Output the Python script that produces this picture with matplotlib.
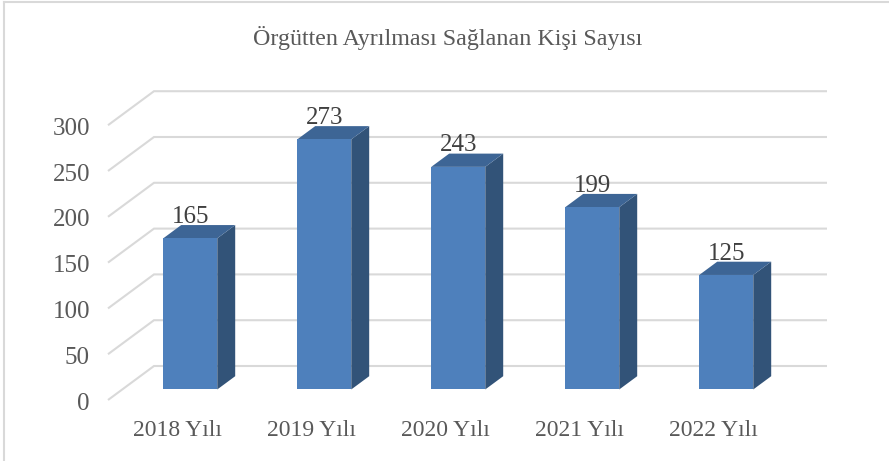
import matplotlib
matplotlib.use("Agg")
import matplotlib.pyplot as plt
from matplotlib.patches import Polygon
from matplotlib.lines import Line2D

W, H = 889, 461

categories = ["2018 Yılı", "2019 Yılı", "2020 Yılı", "2021 Yılı", "2022 Yılı"]
values = [165, 273, 243, 199, 125]
y_ticks = [0, 50, 100, 150, 200, 250, 300]
title = "Örgütten Ayrılması Sağlanan Kişi Sayısı"

plt.rcParams["font.family"] = ["Liberation Serif", "DejaVu Serif"]

# pixel layout of the pseudo 3d box
Y0_PX = 400.0       # value 0 on the front edge of the floor
PX_PER_UNIT = 0.916
X0_PX = 176.0       # first category on the front edge of the floor
STEP_PX = 134.0
WALL_DX, WALL_DY = 46.0, 34.0   # full depth of the box
BAR_D0, BAR_D1 = 0.31, 0.70     # bar depth range inside the box
BAR_W = 54.0 / STEP_PX

fig = plt.figure(figsize=(W / 100, H / 100), dpi=100)
ax = fig.add_axes([0, 0, 1, 1])
# data coordinates: x in category units, y in chart values
ax.set_xlim(-X0_PX / STEP_PX, (W - X0_PX) / STEP_PX)
ax.set_ylim((Y0_PX - H) / PX_PER_UNIT, Y0_PX / PX_PER_UNIT)
ax.axis("off")


def depth(x, y, d):
    # push a front plane point back into the box
    return x + d * WALL_DX / STEP_PX, y + d * WALL_DY / PX_PER_UNIT


grid_left = (108 - X0_PX) / STEP_PX
grid_right = (827 - WALL_DX - X0_PX) / STEP_PX
for t in y_ticks:
    xa, ya = depth(grid_left, t, 0)
    xb, yb = depth(grid_left, t, 1)
    xc, yc = depth(grid_right, t, 1)
    ax.plot([xa, xb, xc], [ya, yb, yc], color="#d9d9d9", lw=1.5, zorder=1,
            solid_joinstyle="miter", solid_capstyle="butt")
    ax.text(grid_left - 18 / STEP_PX, t - 3.5 / PX_PER_UNIT, str(t), ha="right", va="center",
            fontsize=18, color="#595959")

for i, v in enumerate(values):
    l, r = i - BAR_W / 2, i + BAR_W / 2
    fl = depth(l, 0, BAR_D0)
    fr = depth(r, 0, BAR_D0)
    tl = depth(l, v, BAR_D0)
    tr = depth(r, v, BAR_D0)
    br = depth(r, 0, BAR_D1)
    ttr = depth(r, v, BAR_D1)
    ttl = depth(l, v, BAR_D1)
    ax.add_patch(Polygon([fr, br, ttr, tr], color="#325378", lw=0, zorder=2))
    ax.add_patch(Polygon([tl, tr, ttr, ttl], color="#3d6595", lw=0, zorder=2))
    ax.add_patch(Polygon([fl, fr, tr, tl], color="#4e80bc", lw=0, zorder=3))
    cx = (tl[0] + tr[0]) / 2
    ax.text(cx, v + 32 / PX_PER_UNIT, str(v), ha="center", va="center",
            fontsize=18, color="#404040", zorder=4)
    ax.text(i + 1 / STEP_PX, -30 / PX_PER_UNIT, categories[i], ha="center", va="center",
            fontsize=17, color="#595959")

ax.text((447.5 - X0_PX) / STEP_PX, (Y0_PX - 38) / PX_PER_UNIT, title, ha="center", va="center",
        fontsize=17.3, color="#595959")

# chart frame, only top and left are inside the crop
fig.add_artist(Line2D([4 / W, 4 / W], [0, 1 - 2 / H], color="#d9d9d9", lw=1.5))
fig.add_artist(Line2D([4 / W, 1], [1 - 2 / H, 1 - 2 / H], color="#d9d9d9", lw=1.5))

fig.savefig("out.png", dpi=100)
